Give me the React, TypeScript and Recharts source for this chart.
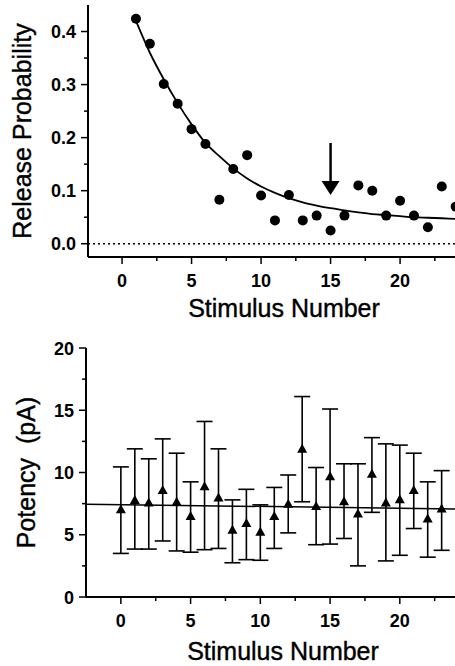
// Release probability and potency vs. stimulus number (two stacked panels)
import React from "react";
import {
  ComposedChart,
  Scatter,
  Line,
  XAxis,
  YAxis,
  ReferenceLine,
  ErrorBar,
} from "recharts";

// top panel
const stimTop = [1, 2, 3, 4, 5, 6, 7, 8, 9, 10, 11, 12, 13, 14, 15, 16, 17, 18, 19, 20, 21, 22, 23, 24];
const releaseProb = [
  0.424, 0.377, 0.301, 0.264, 0.216, 0.188, 0.083, 0.141, 0.167, 0.091, 0.044, 0.092,
  0.044, 0.053, 0.025, 0.053, 0.11, 0.1, 0.053, 0.081, 0.053, 0.031, 0.108, 0.07,
];
const fitCurve = [
  0.42, 0.36, 0.31, 0.265, 0.225, 0.19, 0.165, 0.142, 0.123, 0.108, 0.096, 0.086,
  0.078, 0.072, 0.067, 0.063, 0.059, 0.056, 0.054, 0.052, 0.05, 0.049, 0.048, 0.047,
];
const arrowX = 15;
const arrowY = [0.19, 0.092];

// bottom panel
const stimBottom = [0, 1, 2, 3, 4, 5, 6, 7, 8, 9, 10, 11, 12, 13, 14, 15, 16, 17, 18, 19, 20, 21, 22, 23];
const potency = [
  7.05, 7.8, 7.6, 8.6, 7.65, 6.5, 8.9, 8.0, 5.4, 5.95, 5.25, 6.5,
  7.5, 11.9, 7.3, 9.7, 7.7, 6.7, 9.9, 7.6, 7.85, 8.6, 6.3, 7.1,
];
const potencyHigh = [
  10.45, 11.9, 11.1, 12.7, 11.55, 9.25, 14.1, 11.9, 7.8, 8.65, 7.4, 8.8,
  9.8, 16.1, 10.4, 15.1, 10.7, 10.7, 12.8, 12.3, 12.2, 11.55, 9.25, 10.15,
];
const potencyLow = [
  3.5, 3.85, 3.85, 4.5, 3.7, 3.6, 3.8, 3.9, 2.75, 3.0, 2.95, 3.9,
  5.15, 7.65, 4.2, 4.25, 4.7, 2.5, 6.8, 2.9, 3.35, 5.5, 3.2, 3.75,
];
const meanLineX = [-2.5, 25.75];
const meanLineY = [7.45, 7.05];

const xTicks = [0, 2.5, 5, 7.5, 10, 12.5, 15, 17.5, 20, 22.5];
const probTicks = [0, 0.05, 0.1, 0.15, 0.2, 0.25, 0.3, 0.35, 0.4];
const potencyTicks = [0, 2.5, 5, 7.5, 10, 12.5, 15, 17.5, 20];

const FONT = "'Liberation Sans', Arial, Helvetica, sans-serif";

const topDots = stimTop.map((x, i) => ({ x, p: releaseProb[i] }));
const topFit = stimTop.map((x, i) => ({ x, fit: fitCurve[i] }));
const bottomDots = stimBottom.map((x, i) => ({
  x,
  v: potency[i],
  err: [potency[i] - potencyLow[i], potencyHigh[i] - potency[i]],
}));

const XTick = ({ x, y, payload }: any) => {
  const major = payload.value % 5 === 0;
  return (
    <g>
      <line x1={x} y1={y} x2={x} y2={y + (major ? 7 : 4)} stroke="#000" strokeWidth={1.5} />
      {major && (
        <text x={x} y={y + 30} textAnchor="middle" fontSize={18} fontWeight="bold" fontFamily={FONT} fill="#000">
          {payload.value}
        </text>
      )}
    </g>
  );
};

const ProbTick = ({ x, y, payload }: any) => {
  const v = payload.value;
  const major = Math.abs(v * 10 - Math.round(v * 10)) < 1e-6;
  return (
    <g>
      <line x1={x} y1={y} x2={x - (major ? 7 : 4)} y2={y} stroke="#000" strokeWidth={1.5} />
      {major && (
        <text x={x - 12} y={y + 6.5} textAnchor="end" fontSize={18} fontWeight="bold" fontFamily={FONT} fill="#000">
          {v.toFixed(1)}
        </text>
      )}
    </g>
  );
};

const PotencyTick = ({ x, y, payload }: any) => {
  const v = payload.value;
  const major = v % 5 === 0;
  return (
    <g>
      <line x1={x} y1={y} x2={x - (major ? 7 : 4)} y2={y} stroke="#000" strokeWidth={1.5} />
      {major && (
        <text x={x - 12} y={y + 6.5} textAnchor="end" fontSize={18} fontWeight="bold" fontFamily={FONT} fill="#000">
          {v}
        </text>
      )}
    </g>
  );
};

const Dot = ({ cx, cy }: any) => <circle cx={cx} cy={cy} r={5} fill="#000" />;

const Tri = ({ cx, cy }: any) => (
  <polygon points={`${cx},${cy - 5} ${cx - 5},${cy + 4} ${cx + 5},${cy + 4}`} fill="#000" />
);

// arrow drawn on a vertical segment: shaft plus filled head at the lower end
const Arrow = ({ x1, y1, x2, y2 }: any) => (
  <g>
    <line x1={x1} y1={y1} x2={x2} y2={y2 - 12} stroke="#000" strokeWidth={2.5} />
    <polygon points={`${x2},${y2} ${x2 - 9},${y2 - 14} ${x2 + 9},${y2 - 14}`} fill="#000" />
  </g>
);

const axisLabel = { fontSize: 25, fontFamily: FONT, fill: "#000", stroke: "#000", strokeWidth: 0.4 };

export default function App() {
  return (
    <div style={{ position: "relative", width: 455, height: 666, overflow: "hidden", background: "#fff" }}>
      <style>{"html,body{margin:0;padding:0;overflow:hidden;background:#fff}"}</style>
      <div style={{ position: "absolute", left: 0, top: 0 }}>
        <ComposedChart width={480} height={330} margin={{ top: 5, right: 0, bottom: 0, left: 0 }}>
          <XAxis
            dataKey="x"
            type="number"
            domain={[-2.45, 25.75]}
            ticks={xTicks}
            interval={0}
            tick={<XTick />}
            tickLine={false}
            tickSize={0}
            tickMargin={0}
            height={73}
            axisLine={{ stroke: "#000", strokeWidth: 2 }}
            allowDataOverflow
            label={{ value: "Stimulus Number", position: "insideTop", offset: 42, style: axisLabel }}
          />
          <YAxis
            type="number"
            domain={[-0.025, 0.45]}
            ticks={probTicks}
            interval={0}
            tick={<ProbTick />}
            tickLine={false}
            tickSize={0}
            tickMargin={0}
            width={88}
            axisLine={{ stroke: "#000", strokeWidth: 2 }}
            allowDataOverflow
            label={{ value: "Release Probability", angle: -90, position: "center", dx: -21.5, style: axisLabel }}
          />
          <ReferenceLine y={0} stroke="#000" strokeWidth={1.5} strokeDasharray="2 3" />
          <Line
            data={topFit}
            dataKey="fit"
            type="monotone"
            stroke="#000"
            strokeWidth={1.8}
            dot={false}
            isAnimationActive={false}
          />
          <Scatter data={topDots} dataKey="p" shape={<Dot />} isAnimationActive={false} />
          <ReferenceLine
            segment={[
              { x: arrowX, y: arrowY[0] },
              { x: arrowX, y: arrowY[1] },
            ]}
            shape={(props: any) => <Arrow {...props} />}
          />
        </ComposedChart>
      </div>

      <div style={{ position: "absolute", left: 0, top: 340 }}>
        <ComposedChart width={480} height={326} margin={{ top: 8, right: 0, bottom: 0, left: 0 }}>
          <XAxis
            dataKey="x"
            type="number"
            domain={[-2.5, 25.75]}
            ticks={xTicks}
            interval={0}
            tick={<XTick />}
            tickLine={false}
            tickSize={0}
            tickMargin={0}
            height={69}
            axisLine={{ stroke: "#000", strokeWidth: 2 }}
            allowDataOverflow
            label={{ value: "Stimulus Number", position: "insideTop", offset: 45, style: axisLabel }}
          />
          <YAxis
            type="number"
            domain={[0, 20]}
            ticks={potencyTicks}
            interval={0}
            tick={<PotencyTick />}
            tickLine={false}
            tickSize={0}
            tickMargin={0}
            width={86}
            axisLine={{ stroke: "#000", strokeWidth: 2 }}
            allowDataOverflow
            label={{ value: "Potency\u00a0 (pA)", angle: -90, position: "center", dx: -17, style: axisLabel }}
          />
          <ReferenceLine
            segment={[
              { x: meanLineX[0], y: meanLineY[0] },
              { x: meanLineX[1], y: meanLineY[1] },
            ]}
            stroke="#000"
            strokeWidth={1.5}
          />
          <Scatter data={bottomDots} dataKey="v" shape={<Tri />} isAnimationActive={false}>
            <ErrorBar dataKey="err" direction="y" width={8} stroke="#000" strokeWidth={1.6} />
          </Scatter>
        </ComposedChart>
      </div>
    </div>
  );
}
